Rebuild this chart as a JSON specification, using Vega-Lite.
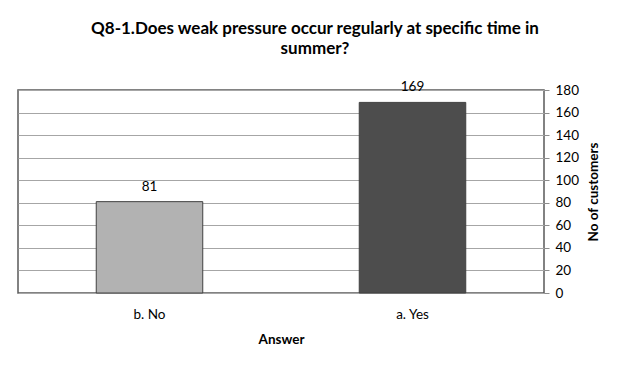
{
  "$schema": "https://vega.github.io/schema/vega-lite/v6.json",
  "width": 526,
  "height": 203,
  "autosize": "none",
  "padding": {"left": 18, "top": 90, "right": 81, "bottom": 77},
  "background": "white",
  "title": {
    "text": ["Q8-1.Does weak pressure occur regularly at specific time in", "summer?"],
    "font": "Lato",
    "fontSize": 17,
    "fontWeight": "bold",
    "color": "#000000",
    "anchor": "middle",
    "frame": "bounds",
    "lineHeight": 20,
    "offset": 22,
    "dx": 6
  },
  "data": {
    "values": [
      {"Answer": "b. No", "Customers": 81},
      {"Answer": "a. Yes", "Customers": 169}
    ]
  },
  "encoding": {
    "x": {
      "field": "Answer",
      "type": "nominal",
      "sort": ["b. No", "a. Yes"],
      "scale": {"paddingInner": 0.595, "paddingOuter": 0.2975},
      "axis": {
        "title": "Answer",
        "titleFont": "Lato",
        "titleFontSize": 13.5,
        "titleFontWeight": "bold",
        "titleColor": "#000000",
        "titlePadding": 12,
        "labelFont": "Lato",
        "labelFontSize": 13.5,
        "labelColor": "#000000",
        "labelPadding": 14,
        "labelAngle": 0,
        "ticks": false,
        "domain": false
      }
    },
    "y": {
      "field": "Customers",
      "type": "quantitative",
      "scale": {"domain": [0, 180]},
      "axis": {
        "orient": "right",
        "values": [0, 20, 40, 60, 80, 100, 120, 140, 160, 180],
        "title": "No of customers",
        "titleFont": "Lato",
        "titleFontSize": 13.5,
        "titleFontWeight": "bold",
        "titleColor": "#000000",
        "titleAngle": 270,
        "titleBaseline": "top",
        "titlePadding": 8,
        "labelFont": "Lato",
        "labelFontSize": 13.5,
        "labelColor": "#000000",
        "labelPadding": 6,
        "tickColor": "#8c8c8c",
        "tickSize": 5,
        "domain": false,
        "grid": true,
        "gridColor": "#a6a6a6",
        "gridWidth": 1
      }
    }
  },
  "layer": [
    {
      "mark": {"type": "bar", "stroke": "#404040", "strokeWidth": 1},
      "encoding": {
        "color": {
          "field": "Answer",
          "type": "nominal",
          "scale": {"domain": ["b. No", "a. Yes"], "range": ["#b2b2b2", "#4d4d4d"]},
          "legend": null
        }
      }
    },
    {
      "mark": {"type": "text", "baseline": "bottom", "dy": -8, "font": "Lato", "fontSize": 13.5, "color": "#000000"},
      "encoding": {"text": {"field": "Customers", "type": "quantitative"}}
    }
  ],
  "config": {
    "view": {"stroke": "#595959", "strokeWidth": 1.5}
  }
}
